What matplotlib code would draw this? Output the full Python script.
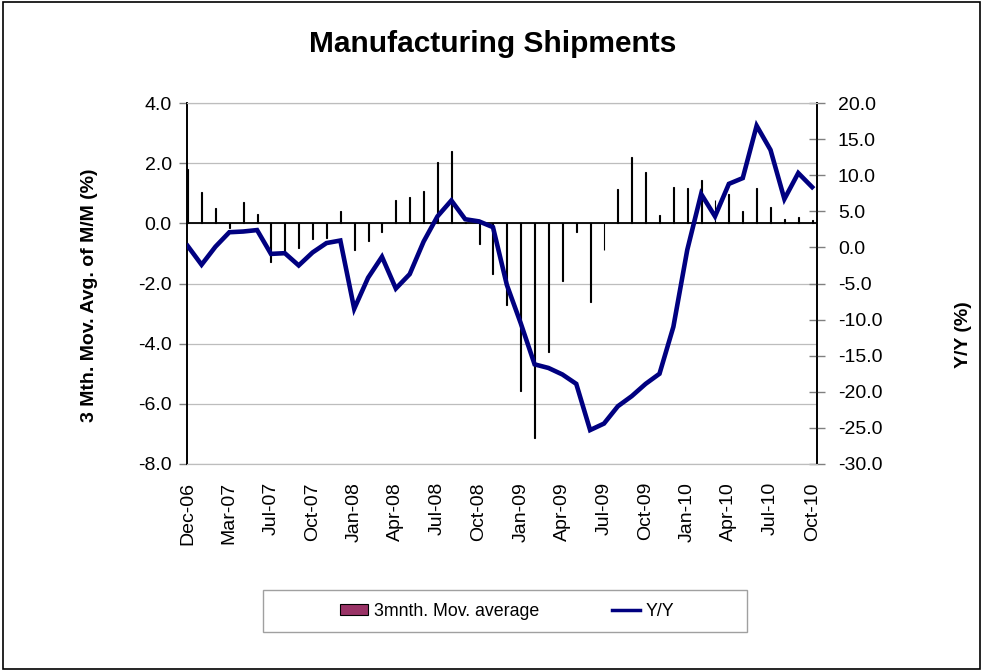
import matplotlib
matplotlib.use('Agg')
import matplotlib.pyplot as plt
from matplotlib.patches import Rectangle
from matplotlib.lines import Line2D

plt.rcParams['font.family'] = ['Liberation Sans', 'DejaVu Sans']

# monthly, Dec-06 .. (46 points)
mov_avg = [1.81, 1.03, 0.50, -0.15, 0.72, 0.31, -1.30, -1.00, -0.83, -0.52,
           -0.48, 0.42, -0.87, -0.59, -0.28, 0.77, 0.87, 1.08, 2.03, 2.39,
           0.05, -0.69, -1.70, -2.70, -5.58, -7.13, -4.28, -1.92, -0.28, -2.61,
           -0.87, 1.13, 2.20, 1.70, 0.27, 1.20, 1.16, 1.44, 0.76, 0.96,
           0.41, 1.17, 0.54, 0.14, 0.21, 0.11]
yoy = [0.2, -2.4, 0.1, 2.1, 2.2, 2.4, -0.9, -0.8, -2.5, -0.7,
       0.6, 0.95, -8.5, -4.2, -1.3, -5.7, -3.7, 0.8, 4.3, 6.5,
       3.9, 3.6, 2.8, -5.2, -10.5, -16.2, -16.7, -17.6, -18.9, -25.3,
       -24.4, -22.0, -20.6, -18.9, -17.5, -11.0, -0.35, 7.4, 4.3, 8.8,
       9.6, 16.85, 13.5, 6.7, 10.3, 8.35]
tick_labels = ['Dec-06', 'Mar-07', 'Jul-07', 'Oct-07', 'Jan-08', 'Apr-08',
               'Jul-08', 'Oct-08', 'Jan-09', 'Apr-09', 'Jul-09', 'Oct-09',
               'Jan-10', 'Apr-10', 'Jul-10', 'Oct-10']

x = list(range(len(mov_avg)))

fig = plt.figure(figsize=(9.83, 6.71), dpi=100)
ax1 = fig.add_axes([187/983, 1-464/671, 630/983, 361/671])
ax2 = ax1.twinx()

ax1.set_zorder(1)
ax2.set_zorder(2)
ax1.patch.set_visible(False)

ax1.bar(x, mov_avg, width=0.07, color='#993366', edgecolor='black', linewidth=0.8, zorder=3)
ax1.axhline(0, color='black', lw=1.3, zorder=4)
ax1.set_ylim(-8, 4)
ax1.set_yticks([-8, -6, -4, -2, 0, 2, 4])
ax1.set_yticklabels(['%.1f' % v for v in [-8, -6, -4, -2, 0, 2, 4]], fontsize=14)
ax1.yaxis.grid(True, color='#bdbdbd', lw=0.9)
ax1.set_axisbelow(True)
ax1.set_xlim(-0.05, 45.35)
ax1.set_xticks(x[::3])
ax1.set_xticklabels(tick_labels, rotation=90, fontsize=14)
ax1.tick_params(axis='x', length=0, pad=13)
ax1.tick_params(axis='y', direction='out', length=6, width=1, color='#808080', pad=5)

ax2.plot(x, yoy, color='#000080', lw=3.3, zorder=5, solid_joinstyle='miter')
ax2.set_ylim(-30, 20)
ax2.set_yticks(range(-30, 21, 5))
ax2.set_yticklabels(['%.1f' % v for v in range(-30, 21, 5)], fontsize=14)
ax2.tick_params(axis='y', direction='inout', length=12, width=1, color='#808080', pad=9)

for a in (ax1, ax2):
    a.spines['top'].set_color('#bdbdbd')
    a.spines['bottom'].set_color('#bdbdbd')
    a.spines['left'].set_color('black')
    a.spines['right'].set_color('black')
    a.spines['left'].set_linewidth(1.2)
    a.spines['right'].set_linewidth(1.2)

fig.text(493/983, 1-44/671, 'Manufacturing Shipments', fontsize=21.5,
         fontweight='bold', ha='center', va='center')
fig.text(90/983, 1-295/671, '3 Mth. Mov. Avg. of M/M (%)', fontsize=14,
         fontweight='bold', rotation=90, ha='center', va='center')
fig.text(964/983, 1-335/671, 'Y/Y (%)', fontsize=14,
         fontweight='bold', rotation=90, ha='center', va='center')

# legend box
fig.patches.append(Rectangle((263/983, 1-632/671), 484/983, 42/671,
                             transform=fig.transFigure, fill=False,
                             edgecolor='#a0a0a0', lw=1))
handles = [Rectangle((0, 0), 1, 1, facecolor='#993366', edgecolor='black', lw=0.8),
           Line2D([], [], color='#000080', lw=2.5)]
fig.legend(handles, ['3mnth. Mov. average', 'Y/Y'], loc='center',
           bbox_to_anchor=(507/983, 1-611/671), ncol=2, frameon=False,
           fontsize=12.8, handlelength=1.6, handleheight=0.6,
           handletextpad=0.3, columnspacing=4.1)

# outer chart border
fig.patches.append(Rectangle((0.003, 0.003), 0.994, 0.994, transform=fig.transFigure,
                             fill=False, edgecolor='black', lw=1.2))

fig.savefig('out.png', dpi=100)
